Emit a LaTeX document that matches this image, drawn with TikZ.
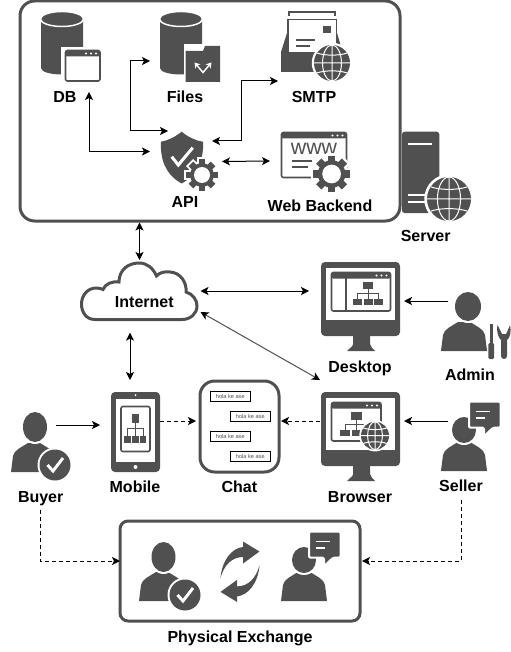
\documentclass[tikz,border=0pt]{standalone}
\usepackage{fontspec}
\setmainfont{Liberation Sans}
\usepackage[dvipsnames]{xcolor}
\usetikzlibrary{arrows.meta,calc}

\definecolor{iconc}{HTML}{505050}

\newcommand{\appwin}[4]{
    \draw[iconc,line width=1.2pt,rounded corners=1.5pt,fill=white] (#1,#2) rectangle (#3,#4);
    \fill[iconc,rounded corners=1pt] (#1,#2) rectangle (#3,{#2+6});
    \foreach \d in {4,9,14} {\fill[white] ({#3-\d},{#2+3}) circle (1.1);}
}

\tikzset{
    blacktip/.tip={Stealth[length=6pt,width=6pt,inset=1.5pt,black]},
    link/.style={{blacktip}-{blacktip},line width=0.75pt},
    oneway/.style={-{blacktip},line width=0.75pt},
    dashlink/.style={-{blacktip},line width=0.75pt,dash pattern=on 3pt off 2.25pt},
    iconbox/.style 2 args={minimum width=#1*0.75pt,minimum height=#2*0.75pt,inner sep=0pt,outer sep=0pt},
    heavybox/.style={draw=iconc,fill=white,line width=2.25pt,inner sep=0pt,outer sep=0pt},
    name label/.style={font=\bfseries\fontsize{12}{12}\selectfont,text height=8.6pt,text depth=0pt,inner sep=0pt},
    msgbox/.style={draw=black,line width=0.75pt,fill=white,iconbox={40.5}{10},font=\fontsize{4.2}{5}\selectfont,text=iconc},
    pics/gearicon/.style={code={
        \foreach \a in {0,45,...,315} {\fill[white,rotate=\a] (-5,8) rectangle (5,17.6);}
        \fill[white] (0,0) circle (14.2);
        \foreach \a in {0,45,...,315} {\fill[iconc,rotate=\a] (-3.2,9) rectangle (3.2,15.6);}
        \fill[iconc] (0,0) circle (11.8);
        \fill[white] (0,0) circle (8);
    }},
    pics/globeicon/.style={code={
        \fill[white] (0,0) circle (22.5);
        \fill[iconc] (0,0) circle (20);
        \draw[white,line width=0.75pt] (0,-20) -- (0,20) (-20,0) -- (20,0) (0,0) ellipse [x radius=10.5,y radius=20];
        \draw[white,line width=0.75pt] (-16.5,-11) .. controls (-8,-8) and (8,-8) .. (16.5,-11);
        \draw[white,line width=0.75pt] (-16.5,11) .. controls (-8,8) and (8,8) .. (16.5,11);
    }},
    pics/checkbadge/.style={code={
        \fill[white] (0,0) circle (17.5);
        \fill[iconc] (0,0) circle (15.5);
        \draw[white,line width=2.2pt] (-7.5,0) -- (-2,6) -- (8,-7);
    }},
    pics/cylinder/.style={code={
        \fill[iconc] (0,7) -- (0,56) .. controls (0,60) and (10,62.5) .. (21,62.5) .. controls (32,62.5) and (42,60) .. (42,56) -- (42,7) -- cycle;
        \draw[white,line width=1.1pt,fill=iconc] (21,7) ellipse [x radius=21.5,y radius=7.5];
    }},
    pics/monitor/.style={code={
        \fill[iconc] (32,73) -- (32,82) .. controls (32,85) and (28,86) .. (26,89) -- (54,89) .. controls (52,86) and (49,85) .. (49,82) -- (49,73) -- cycle;
        \fill[iconc,rounded corners=3pt] (0,0) rectangle (79,74);
        \fill[white] (5,6) rectangle (74,58);
    }},
    pics/orgtree/.style={code={
        \fill[iconc] (-5,-3.5) rectangle (5,3.5);
        \draw[iconc,line width=0.75pt] (0,3.5) -- (0,8) (-10.7,13.5) -- (-10.7,8) -- (10.7,8) -- (10.7,13.5) (0,8) -- (0,13.5);
        \foreach \d in {-10.7,0,10.7} {\fill[iconc] ({\d-4.5},13.5) rectangle ({\d+4.5},19.5);}
    }},
    pics/userbody/.style={code={
        \fill[iconc] (-23,0) -- (-21,-16) .. controls (-20,-22) and (-12,-25) .. (-6,-29) -- (6,-29) .. controls (12,-25) and (20,-22) .. (21,-16) -- (23,0) -- cycle;
    }},
    pics/chatbubble/.style={code={
        \draw[white,line width=1.5pt,fill=iconc,rounded corners=1pt] (0,0) -- (31.5,0) -- (31.5,26) -- (24,26) -- (15.3,34.5) -- (15,26) -- (0,26) -- cycle;
        \draw[white,line width=1.1pt] (6.5,10) -- (21,10) (6.5,16.5) -- (16,16.5);
    }},
}

\begin{document}
\begin{tikzpicture}[x=0.75pt,y=-0.75pt]

    \useasboundingbox (0,0) rectangle (510,652);

    % server group
    \node[heavybox,iconbox={380}{220},rounded corners=11pt] (serverbox) at (210,111) {};

    \node[iconbox={64}{84}] (db) at (71,50) {};
    \pic at (41,12) {cylinder};
    \draw[white,line width=2.5pt,fill=white] (63,49) rectangle (102,82);
    \appwin{65.5}{50.5}{100}{81}

    \node[iconbox={72}{74}] (files) at (186,47) {};
    \pic at (160,12) {cylinder};
    \fill[white] (183.5,44) rectangle (222,84);
    \fill[iconc] (185.6,51) -- (203,51) -- (205,46) -- (220,46) -- (220,82) -- (185.6,82) -- cycle;
    \draw[white,line width=1.1pt,{Stealth[length=4pt,width=5pt]}-{Stealth[length=4pt,width=5pt]}] (194.5,62.5) -- (203,72.5) -- (211.5,62.5);

    \node[iconbox={74}{71}] (smtp) at (315,45.5) {};
    \fill[iconc] (287,33) -- (281,52) -- (281,72) -- (340,72) -- (340,43) -- (337,33) -- cycle;
    \draw[iconc,line width=1.1pt,fill=white] (288,19.5) rectangle (336.5,53);
    \draw[iconc,line width=1.5pt] (288.5,16) -- (288.5,12.5) -- (334.5,12.5) -- (334.5,16);
    \fill[iconc] (323,25.7) rectangle (331,33);
    \draw[iconc,line width=1.1pt] (296,40) -- (315,40) (296,46) -- (310,46);
    \pic[scale=0.9] at (332,63) {globeicon};

    \node[iconbox={72}{61}] (api) at (186,161.5) {};
    \fill[iconc] (181.7,131.7) .. controls (175,137) and (168,140.5) .. (161,141.7) .. controls (160,160) and (166,175) .. (181.7,183.5) .. controls (197,175) and (204,160) .. (203,141.7) .. controls (195,140.5) and (188,137) .. (181.7,131.7) -- cycle;
    \draw[white,line width=2.3pt] (171.7,156.7) -- (178.3,165) -- (192.7,147.7);
    \pic at (202,175) {gearicon};

    \node[iconbox={82}{64}] (web) at (311,161) {};
    \appwin{281.5}{132.5}{346.5}{177.5}
    \node[inner sep=0pt,font=\fontsize{16}{16}\selectfont,text=iconc] (wwwtext) at (314,149) {www};
    \draw[iconc,line width=1.1pt] (291.7,161) -- (311.7,161) (291.7,167) -- (308,167);
    \pic[scale=1.17] at (331.6,174) {gearicon};

    \node[iconbox={38}{82}] (server) at (421,172.5) {};
    \fill[iconc,rounded corners=2pt] (402,131.7) -- (439.3,131.7) -- (439.3,213) -- (402,213) -- cycle;
    \draw[white,line width=2.2pt] (407.7,144) -- (432,144);
    \draw[white,line width=1.5pt] (407.7,195) -- (427,195) (407.7,202) -- (427,202);
    \pic[scale=1.1] at (449,199) {globeicon};

    % cloud
    \node[iconbox={122}{62}] (internet) at (139.5,291) {};
    \draw[iconc,line width=2.25pt,fill=white] (95,319.5) .. controls (86,319.5) and (81.5,312) .. (81.5,304) .. controls (81.5,295) and (88,288) .. (96,288) .. controls (98.5,288) and (101,288.5) .. (103,289.5) .. controls (105,284) and (112,281) .. (119,282) .. controls (119,270) and (128,263) .. (139,263) .. controls (147,263) and (153,268) .. (156.5,276) .. controls (160,272) and (165,271.5) .. (170,272) .. controls (180,272.5) and (187,282) .. (186,292) .. controls (193,294) and (197,300) .. (197,306) .. controls (197,314) and (190,319.5) .. (182,319.5) -- cycle;

    % desktop
    \node[iconbox={95}{90}] (desktop) at (356.5,306) {};
    \pic at (321,262) {monitor};
    \appwin{331.5}{272.5}{390.5}{311}
    \draw[iconc,line width=1.5pt] (346,277) -- (346,311);
    \pic at (368,285.5) {orgtree};

    \node[iconbox={62}{64}] (admin) at (479,321) {};
    \pic at (464,351) {userbody};
    \fill[white] (468,306.5) ellipse [x radius=15,y radius=16.5];
    \fill[iconc] (468,306.5) ellipse [x radius=13,y radius=14.5];
    \fill[iconc] (490,324) rectangle (492.5,343);
    \fill[iconc,rounded corners=1pt] (488.3,343) rectangle (494.2,359);
    \fill[iconc] (497.5,325) .. controls (496,333) and (499,338) .. (501,340) -- (501,356) .. controls (501,360) and (507,360) .. (507,356) -- (507,340) .. controls (510,338) and (511.5,332) .. (510,325) -- (507.5,331) -- (506,334) -- (502,334) -- (500.5,331) -- cycle;

    % browser
    \node[iconbox={84}{102}] (browser) at (362,431) {};
    \pic at (321,392) {monitor};
    \appwin{331.5}{402.5}{381}{441}
    \pic[scale=1.05] at (356.3,416) {orgtree};
    \pic[scale=0.7] at (375,435.7) {globeicon};

    \node[iconbox={54}{71}] (seller) at (475,436.5) {};
    \pic at (464,471) {userbody};
    \fill[white] (464,430) ellipse [x radius=14,y radius=15];
    \fill[iconc] (464,430) ellipse [x radius=12,y radius=13];
    \pic at (469,401.7) {chatbubble};

    % mobile and chat
    \node[iconbox={60}{90}] (mobile) at (130,425) {};
    \fill[iconc,rounded corners=3pt] (111,392) rectangle (160,472);
    \fill[white] (116,399) rectangle (155,462);
    \fill[white] (135.5,395) circle (1);
    \fill[white] (135.5,467) circle (2);
    \draw[iconc,line width=1.2pt,rounded corners=1.5pt] (121,406.5) rectangle (150,451.5);
    \pic[xscale=0.73,yscale=1.26] at (135.3,418.7) {orgtree};

    \node[heavybox,iconbox={79}{91},rounded corners=11pt] (chat) at (239.5,426.5) {};
    \node[msgbox] (msg1) at (230.3,396.7) {hola ke ase};
    \node[msgbox] (msg2) at (250.3,416.7) {hola ke ase};
    \node[msgbox] (msg3) at (230.3,436.7) {hola ke ase};
    \node[msgbox] (msg4) at (250.3,456.7) {hola ke ase};

    \node[iconbox={46}{70}] (buyer) at (33,425) {};
    \pic at (34,472) {userbody};
    \fill[white] (35,427) ellipse [x radius=14,y radius=17];
    \fill[iconc] (35,427) ellipse [x radius=12,y radius=15];
    \pic at (55,465) {checkbadge};

    % exchange
    \node[heavybox,iconbox={240}{100},rounded corners=6pt] (exchange) at (240,571) {};
    \pic at (162,601) {userbody};
    \fill[white] (163.5,557) ellipse [x radius=14,y radius=17];
    \fill[iconc] (163.5,557) ellipse [x radius=12,y radius=15];
    \pic at (185,595) {checkbadge};
    \pic at (304,601) {userbody};
    \fill[white] (304,560) ellipse [x radius=14,y radius=15];
    \fill[iconc] (304,560) ellipse [x radius=12,y radius=13];
    \pic at (309,531.7) {chatbubble};
    \fill[iconc] (220.5,578) .. controls (222,560) and (232,548) .. (243,547) -- (243,541.5) -- (259.5,551.5) -- (243,563.5) -- (243,557) .. controls (232,557) and (224,565) .. (220.5,578) -- cycle;
    \fill[iconc,rotate around={180:(240,571.7)}] (220.5,578) .. controls (222,560) and (232,548) .. (243,547) -- (243,541.5) -- (259.5,551.5) -- (243,563.5) -- (243,557) .. controls (232,557) and (224,565) .. (220.5,578) -- cycle;

    % labels
    \node[name label] (dblabel) at (65,96.7) {DB};
    \node[name label] (fileslabel) at (185,96.7) {Files};
    \node[name label] (smtplabel) at (314,96.7) {SMTP};
    \node[name label] (apilabel) at (185,201.7) {API};
    \node[name label] (weblabel) at (320,206) {Web Backend};
    \node[name label] (serverlabel) at (425.7,236) {Server};
    \node[name label] (internetlabel) at (144.3,301.7) {Internet};
    \node[name label] (desktoplabel) at (360,366.7) {Desktop};
    \node[name label] (adminlabel) at (470,374.3) {Admin};
    \node[name label] (browserlabel) at (360,496.7) {Browser};
    \node[name label] (sellerlabel) at (461,486) {Seller};
    \node[name label] (mobilelabel) at (135,486.7) {Mobile};
    \node[name label] (chatlabel) at (239.3,486.7) {Chat};
    \node[name label] (buyerlabel) at (40.7,496.7) {Buyer};
    \node[name label] (exchangelabel) at (240,636.7) {Physical Exchange};

    % connectors
    \draw[link] ($(db.south)+(18,0)$) |- ($(api.west)+(0,-10)$);
    \draw[link] ($(files.west)+(0,14)$) -- ++(-19.5,0) |- ($(api.north)+(-18,0)$);
    \draw[link] (smtp.south west) -- ++(-37,0) |- ($(api.east)+(-10,-20.5)$);
    \draw[link] (api.east) -- (web.west);
    \draw[link] ($(serverbox.south)+(-70.5,1.5)$) -- (internet.north);
    \draw[link] (internet.east) -- ($(desktop.west)+(0,-15)$);
    \draw[link] ($(internet.south)+(-9.5,10.7)$) -- (mobile.north);
    \draw[{blacktip}-{blacktip},draw=iconc,line width=0.75pt] ($(internet.east)+(0,21)$) -- (browser.north west);
    \draw[oneway] ($(admin.west)+(0,-20)$) -- ($(desktop.east)+(0,-5)$);
    \draw[oneway] ($(seller.west)+(0,-15.5)$) -- ($(browser.east)+(0,-10)$);
    \draw[oneway] (buyer.east) -- (mobile.west);
    \draw[dashlink] ($(mobile.east)+(0,-4)$) -- ($(chat.west)+(-4,-5.5)$);
    \draw[dashlink] ($(browser.west)+(0,-10)$) -- ($(chat.east)+(2,-5.5)$);
    \draw[dashlink] ($(buyerlabel.south)+(0,7)$) |- ($(exchange.west)+(0,-10)$);
    \draw[dashlink] ($(sellerlabel.south)+(0,8)$) |- ($(exchange.east)+(2,-10)$);

\end{tikzpicture}
\end{document}
